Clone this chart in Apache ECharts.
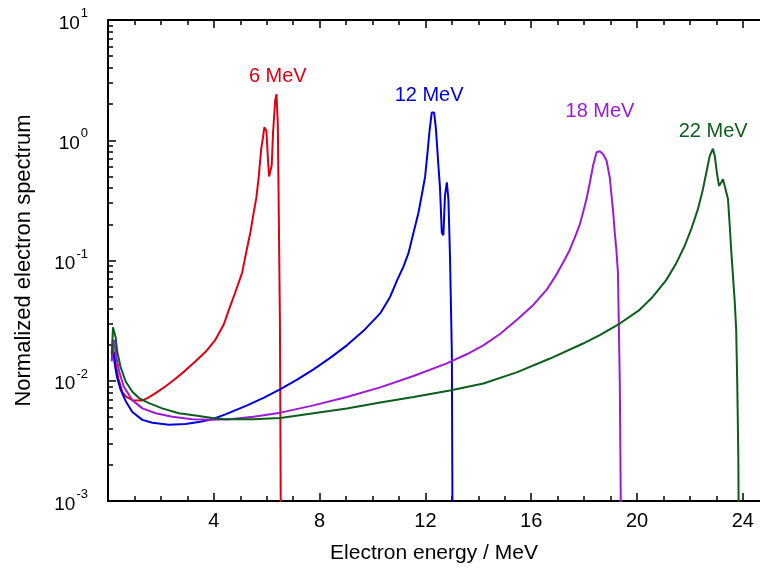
<!DOCTYPE html>
<html>
<head>
<meta charset="utf-8">
<script src="https://cdn.jsdelivr.net/npm/echarts@6/dist/echarts.min.js"></script>
<style>
  html, body { margin: 0; padding: 0; background: #fff; }
  #chart { width: 760px; height: 574px; }
</style>
</head>
<body>
<div id="chart"></div>
<script>
// Electron energy spectra for four nominal beam energies (MeV), normalized.
const beamEnergies = [6, 12, 18, 22];

const energy6 = [0.14, 0.23, 0.30, 0.39, 0.54, 0.67, 0.92, 1.30, 1.49, 1.80, 2.18, 2.55, 2.93, 3.31, 3.69, 4.06, 4.38, 4.57, 4.82, 5.07, 5.20, 5.38, 5.51, 5.61, 5.70, 5.79, 5.86, 5.91, 5.99, 6.04, 6.09, 6.14, 6.19, 6.24, 6.32, 6.37, 6.42, 6.45, 6.50, 6.55];
const spectrum6 = [0.0158, 0.0174, 0.0135, 0.0105, 0.0081, 0.0074, 0.0069, 0.00686, 0.00718, 0.0079, 0.0090, 0.0104, 0.0122, 0.0145, 0.0174, 0.0219, 0.0295, 0.0389, 0.055, 0.079, 0.110, 0.170, 0.251, 0.333, 0.50, 0.84, 1.05, 1.28, 1.20, 0.74, 0.50, 0.49, 0.62, 1.16, 2.14, 2.42, 1.36, 0.335, 0.031, 0.0001];

const energy12 = [0.14, 0.19, 0.26, 0.35, 0.48, 0.67, 0.92, 1.30, 1.68, 2.30, 2.93, 3.43, 3.94, 4.44, 5.26, 5.90, 6.52, 7.15, 7.77, 8.40, 9.03, 9.66, 10.29, 10.67, 10.92, 11.17, 11.36, 11.55, 11.74, 11.86, 11.99, 12.08, 12.15, 12.24, 12.33, 12.40, 12.49, 12.55, 12.62, 12.68, 12.74, 12.81, 12.87, 12.93, 13.00, 13.04];
const spectrum12 = [0.0150, 0.0186, 0.0135, 0.0105, 0.0084, 0.00676, 0.0055, 0.00473, 0.00447, 0.0043, 0.00437, 0.00453, 0.00479, 0.00525, 0.00624, 0.00724, 0.00851, 0.01023, 0.01245, 0.0155, 0.0197, 0.0260, 0.0363, 0.050, 0.0676, 0.089, 0.115, 0.170, 0.251, 0.347, 0.50, 0.79, 1.16, 1.70, 1.70, 1.23, 0.62, 0.41, 0.17, 0.162, 0.347, 0.447, 0.324, 0.108, 0.017, 0.0001];

const energy18 = [0.14, 0.23, 0.32, 0.42, 0.60, 0.92, 1.30, 1.80, 2.43, 3.18, 3.94, 4.60, 5.50, 6.52, 7.77, 9.03, 10.29, 11.55, 12.81, 13.56, 14.19, 14.82, 15.45, 16.08, 16.58, 16.96, 17.27, 17.46, 17.65, 17.84, 17.96, 18.09, 18.22, 18.34, 18.47, 18.59, 18.72, 18.85, 18.97, 19.10, 19.16, 19.22, 19.28, 19.35, 19.38, 19.42];
const spectrum18 = [0.0145, 0.0219, 0.0155, 0.0120, 0.0089, 0.0069, 0.00589, 0.00537, 0.00501, 0.00479, 0.00473, 0.00479, 0.00501, 0.00543, 0.00624, 0.00733, 0.00881, 0.01096, 0.01396, 0.0166, 0.0197, 0.0245, 0.0320, 0.0427, 0.0569, 0.0767, 0.102, 0.123, 0.156, 0.200, 0.251, 0.324, 0.447, 0.617, 0.794, 0.81, 0.764, 0.676, 0.49, 0.251, 0.170, 0.123, 0.079, 0.0095, 0.0015, 0.0001];

const energy22 = [0.14, 0.19, 0.29, 0.35, 0.48, 0.67, 0.92, 1.17, 1.55, 2.05, 2.68, 3.31, 3.94, 4.44, 5.50, 6.52, 7.77, 9.03, 10.29, 11.55, 12.93, 14.19, 15.45, 16.71, 17.96, 18.59, 19.35, 20.10, 20.60, 21.11, 21.49, 21.80, 22.05, 22.30, 22.49, 22.62, 22.75, 22.87, 22.94, 23.02, 23.10, 23.19, 23.25, 23.35, 23.44, 23.50, 23.56, 23.62, 23.69, 23.75, 23.79, 23.83, 23.87];
const spectrum22 = [0.0166, 0.0278, 0.0229, 0.0174, 0.0129, 0.00986, 0.0081, 0.00718, 0.00652, 0.00589, 0.00537, 0.00513, 0.0049, 0.00479, 0.00479, 0.0049, 0.00537, 0.00589, 0.0066, 0.00733, 0.0083, 0.0095, 0.01175, 0.0153, 0.0204, 0.0240, 0.0299, 0.0389, 0.050, 0.069, 0.0955, 0.132, 0.182, 0.266, 0.389, 0.537, 0.741, 0.85, 0.741, 0.537, 0.417, 0.447, 0.473, 0.389, 0.324, 0.204, 0.123, 0.079, 0.0473, 0.0266, 0.0095, 0.0024, 0.0001];

// Axis tick values
const xMajorTicks = [0, 4, 8, 12, 16, 20, 24];
const xTickLabels = [4, 8, 12, 16, 20, 24];
const yExponents = [-3, -2, -1, 0, 1];

const FONT = "'Liberation Sans', Arial, Helvetica, sans-serif";
const colors = ['#e00010', '#0000dd', '#9b1bd8', '#0b5e1b'];

const xMinorTicks = [];
for (let v = 1; v < 25; v++) if (v % 4 !== 0) xMinorTicks.push(v);
const yMinorTicks = [];
for (let e = -3; e < 1; e++) for (let m = 2; m <= 9; m++) yMinorTicks.push(+(m * Math.pow(10, e)).toPrecision(3));

const zip = (xs, ys) => xs.map((x, i) => [x, ys[i]]);
const seriesData = [zip(energy6, spectrum6), zip(energy12, spectrum12), zip(energy18, spectrum18), zip(energy22, spectrum22)];
const labelCoords = [[6.42, 3.42], [12.14, 2.37], [18.6, 1.73], [22.88, 1.18]];

// All x axes (and both y axes) share one range, so every series maps
// identically whichever pair it is attached to; attaching one series to
// each axis keeps the tick-only axes active.
const axisPairs = [[0, 0], [1, 1], [2, 0], [3, 1]];

const X_MAX = 24.65;
const axisLineStyle = { color: '#000', width: 2 };
const tickStyle = { color: '#000', width: 1.5 };

function xAxisDef(position, ticks, len, withLine, withLabels) {
  return {
    type: 'value', position, min: 0, max: X_MAX,
    axisLine: { show: withLine, onZero: false, lineStyle: axisLineStyle },
    axisTick: { show: true, inside: true, length: len, customValues: ticks, lineStyle: tickStyle },
    axisLabel: withLabels
      ? { show: true, customValues: xTickLabels, color: '#000', fontSize: 20, fontFamily: FONT, margin: 10 }
      : { show: false },
    splitLine: { show: false }
  };
}

const xAxes = [
  Object.assign(xAxisDef('bottom', xMajorTicks, 8, true, true), {
    name: 'Electron energy / MeV', nameLocation: 'middle', nameGap: 42,
    nameTextStyle: { color: '#000', fontSize: 21, fontFamily: FONT }
  }),
  xAxisDef('bottom', xMinorTicks, 5, false, false),
  xAxisDef('top', xMajorTicks, 8, true, false),
  xAxisDef('top', xMinorTicks, 5, false, false)
];

const yAxes = [
  {
    type: 'log', logBase: 10, min: 0.001, max: 10, position: 'left',
    axisLine: { show: true, onZero: false, lineStyle: axisLineStyle },
    axisTick: { show: true, inside: true, length: 8, lineStyle: tickStyle },
    axisLabel: {
      show: true, margin: 20,
      customValues: yExponents.map(e => Math.pow(10, e)),
      formatter: v => '{b|10}{s|' + Math.round(Math.log10(v)) + '}',
      rich: {
        b: { fontSize: 19, fontFamily: FONT, color: '#000', verticalAlign: 'bottom', lineHeight: 26 },
        s: { fontSize: 13, fontFamily: FONT, color: '#000', verticalAlign: 'top', lineHeight: 26, padding: [0, 0, 0, 1] }
      }
    },
    splitLine: { show: false },
    name: 'Normalized electron spectrum', nameLocation: 'middle', nameGap: 73,
    nameTextStyle: { color: '#000', fontSize: 22, fontFamily: FONT }
  },
  {
    type: 'log', logBase: 10, min: 0.001, max: 10, position: 'left',
    axisLine: { show: false, onZero: false },
    axisTick: { show: true, inside: true, length: 5, customValues: yMinorTicks, lineStyle: tickStyle },
    axisLabel: { show: false },
    splitLine: { show: false }
  }
];

const series = beamEnergies.map((e, i) => ({
  name: e + ' MeV',
  type: 'line',
  data: seriesData[i],
  xAxisIndex: axisPairs[i][0],
  yAxisIndex: axisPairs[i][1],
  z: 2 + i,
  showSymbol: false,
  symbol: 'none',
  clip: true,
  lineStyle: { color: colors[i], width: 2 },
  markPoint: {
    symbol: 'circle', symbolSize: 0, silent: true,
    label: { show: true, position: 'inside', formatter: e + ' MeV', color: colors[i], fontSize: 20, fontFamily: FONT },
    data: [{ coord: labelCoords[i] }]
  }
}));

const chart = echarts.init(document.getElementById('chart'), null, { renderer: 'canvas' });
chart.setOption({
  animation: false,
  backgroundColor: '#fff',
  grid: { left: 108, right: 0, top: 20, bottom: 73, containLabel: false },
  xAxis: xAxes,
  yAxis: yAxes,
  series
});
</script>
</body>
</html>
